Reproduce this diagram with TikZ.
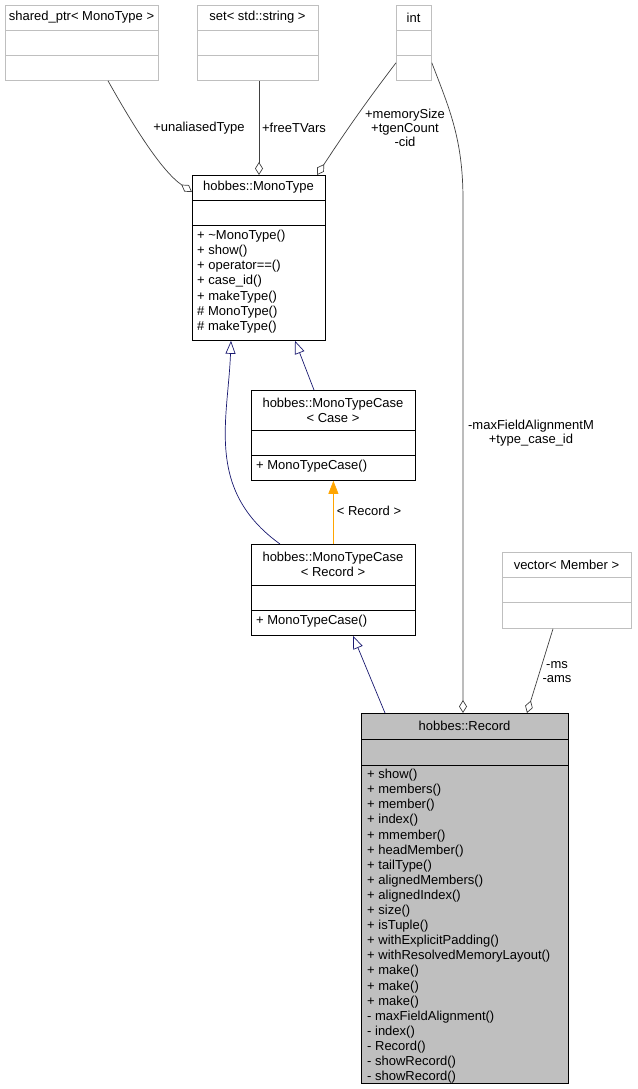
\documentclass[tikz,border=0pt]{standalone}
\usepackage{fontspec}
\setmainfont{Liberation Sans}
\usetikzlibrary{arrows.meta,positioning}

\definecolor{boxgray}{HTML}{BFBFBF}
\definecolor{edgegray}{HTML}{404040}
\definecolor{inhblue}{HTML}{191970}
\definecolor{tplorange}{HTML}{FFA500}

\tikzset{
  cls/.style={draw=black, anchor=north west, inner sep=0pt, line width=0.8pt},
  extcls/.style={draw=boxgray, anchor=north west, inner sep=0pt, line width=0.8pt},
  txt/.style={font=\fontsize{13}{15.1}\selectfont, inner sep=0pt, align=left},
  usage/.style={draw=edgegray, line width=0.7pt, {Diamond[open,length=13pt,width=8pt]}-},
  inherit/.style={draw=inhblue, line width=0.7pt, {Triangle[open,length=13pt,width=10pt]}-},
  tmpl/.style={draw=tplorange, line width=0.7pt, {Triangle[length=13pt,width=10pt]}-},
  lbl/.style={font=\fontsize{13}{14}\selectfont, align=center, inner sep=0pt}
}

\begin{document}
\begin{tikzpicture}[x=1pt,y=-1pt]
\useasboundingbox (0,0) rectangle (637,1089);

% external classes
\node[extcls, minimum width=153pt, minimum height=75pt] (sptr) at (5,5) {};
\draw[boxgray, line width=0.8pt] (5,30) -- (158,30) (5,55) -- (158,55);
\node[txt] at (81.5,17.5) {shared\_ptr< MonoType >};

\node[extcls, minimum width=121pt, minimum height=75pt] (strset) at (197,5) {};
\draw[boxgray, line width=0.8pt] (197,30) -- (318,30) (197,55) -- (318,55);
\node[txt] at (257.5,17.5) {set< std::string >};

\node[extcls, minimum width=35pt, minimum height=75pt] (int) at (396,5) {};
\draw[boxgray, line width=0.8pt] (396,30) -- (431,30) (396,55) -- (431,55);
\node[txt] at (413.5,17.5) {int};

\node[extcls, minimum width=129pt, minimum height=76pt] (vec) at (502,552) {};
\draw[boxgray, line width=0.8pt] (502,577) -- (631,577) (502,602) -- (631,602);
\node[txt] at (566.5,564.5) {vector< Member >};

% hobbes::MonoType
\node[cls, minimum width=133pt, minimum height=165pt] (mono) at (192,175) {};
\draw[line width=0.8pt] (192,200) -- (325,200) (192,225) -- (325,225);
\node[txt] at (258.5,187.5) {hobbes::MonoType};
\node[txt, anchor=north west] at (197,230) {+ \textasciitilde MonoType()\\+ show()\\+ operator==()\\+ case\_id()\\+ makeType()\\\# MonoType()\\\# makeType()};

% hobbes::MonoTypeCase< Case >
\node[cls, minimum width=164pt, minimum height=90pt] (mtcase) at (251,390) {};
\draw[line width=0.8pt] (251,430) -- (415,430) (251,455) -- (415,455);
\node[txt, align=center] at (333,410) {hobbes::MonoTypeCase\\< Case >};
\node[txt, anchor=north west] at (256,460) {+ MonoTypeCase()};

% hobbes::MonoTypeCase< Record >
\node[cls, minimum width=164pt, minimum height=91pt] (mtrec) at (251,544) {};
\draw[line width=0.8pt] (251,585) -- (415,585) (251,610) -- (415,610);
\node[txt, align=center] at (333,564) {hobbes::MonoTypeCase\\< Record >};
\node[txt, anchor=north west] at (256,615) {+ MonoTypeCase()};

% hobbes::Record
\node[cls, fill=boxgray, minimum width=207pt, minimum height=370pt] (rec) at (361,713) {};
\draw[line width=0.8pt] (361,739) -- (568,739) (361,765) -- (568,765);
\node[txt] at (464.5,726) {hobbes::Record};
\node[txt, anchor=north west] at (367,769) {+ show()\\+ members()\\+ member()\\+ index()\\+ mmember()\\+ headMember()\\+ tailType()\\+ alignedMembers()\\+ alignedIndex()\\+ size()\\+ isTuple()\\+ withExplicitPadding()\\+ withResolvedMemoryLayout()\\+ make()\\+ make()\\+ make()\\- maxFieldAlignment()\\- index()\\- Record()\\- showRecord()\\- showRecord()};

% usage edges
\draw[usage] ([yshift=-17pt]mono.north west) .. controls (160,170) and (130,120) .. ([xshift=103pt]sptr.south west);
\node[lbl] at (199,128) {+unaliasedType};
\draw[usage] ([xshift=67pt]mono.north west) -- ([xshift=62pt]strset.south west);
\node[lbl] at (294,128) {+freeTVars};
\draw[usage] ([xshift=125pt]mono.north west) .. controls (340,140) and (360,110) .. ([yshift=18pt]int.south west);
\node[lbl] at (405,128) {+memorySize\\+tgenCount\\-cid};
\draw[usage] ([xshift=102pt]rec.north west) -- (463,200) .. controls (463,140) and (450,110) .. ([yshift=18pt]int.south east);
\node[lbl] at (531,433) {-maxFieldAlignmentM\\+type\_case\_id};
\draw[usage] ([xshift=166pt]rec.north west) -- ([xshift=51pt]vec.south west);
\node[lbl] at (557,672) {-ms\\-ams};

% inheritance edges
\draw[inherit] ([xshift=103pt]mono.south west) -- ([xshift=63pt]mtcase.north west);
\draw[inherit] ([xshift=39pt]mono.south west) .. controls (228,420) and (205,490) .. ([xshift=29pt]mtrec.north west);
\draw[tmpl] (mtcase.south) -- (mtrec.north);
\node[lbl] at (369,511) {< Record >};
\draw[inherit] ([xshift=102pt]mtrec.south west) -- ([xshift=24pt]rec.north west);
\end{tikzpicture}
\end{document}
